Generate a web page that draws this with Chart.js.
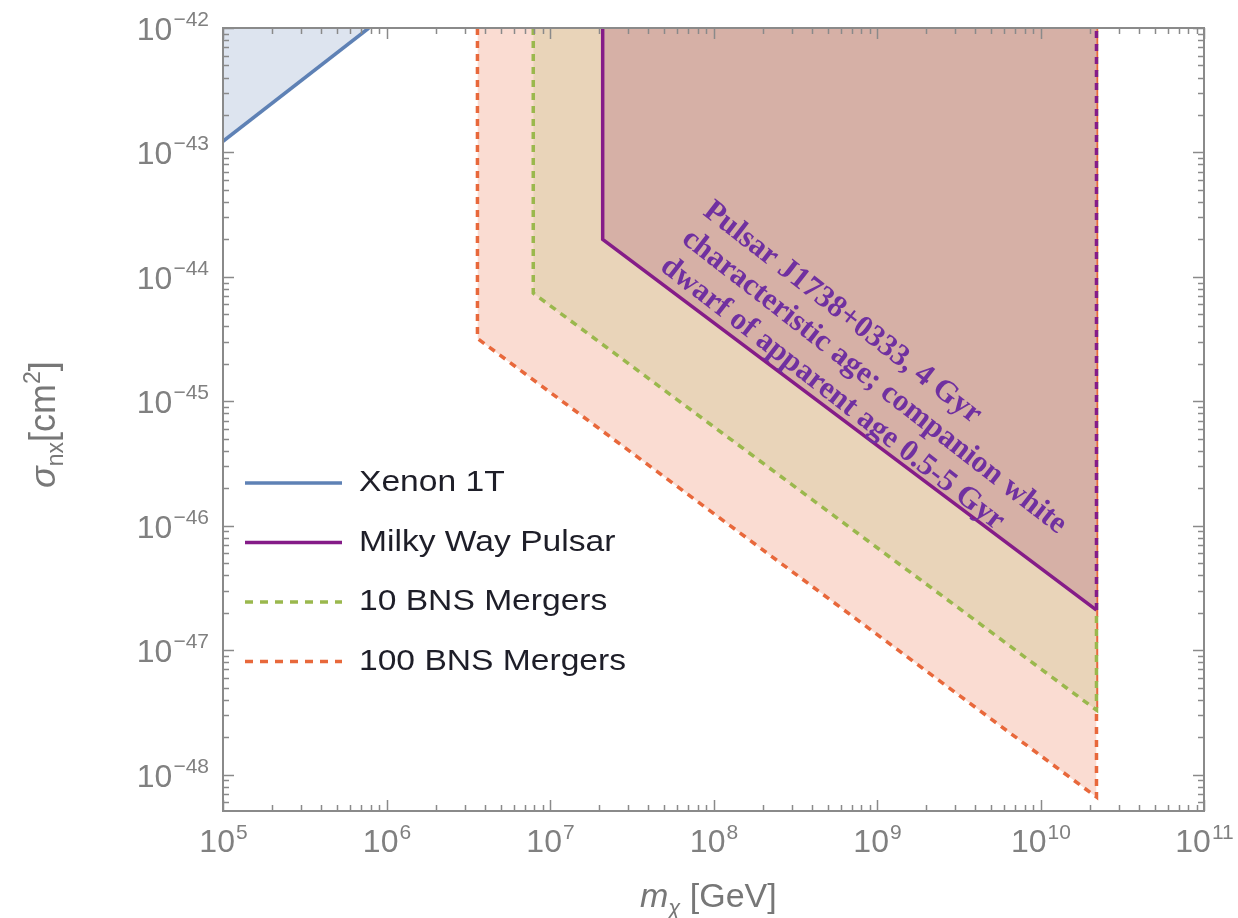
<!DOCTYPE html>
<html>
<head>
<meta charset="utf-8">
<script src="https://cdn.jsdelivr.net/npm/chart.js@4.4.1/dist/chart.umd.min.js"></script>
<style>
  html, body { margin: 0; padding: 0; background: #fff; }
</style>
</head>
<body>
<canvas id="chart" width="1238" height="918"></canvas>
<script>
// tick values (decades only, minor ticks drawn by the frame plugin)
const xTickValues = [1e5, 1e6, 1e7, 1e8, 1e9, 1e10, 1e11];
const yTickValues = [1e-48, 1e-47, 1e-46, 1e-45, 1e-44, 1e-43, 1e-42];

// boundaries: m_chi [GeV] vs sigma_nx [cm^2]
const xenonMass = [1e5, 7.8e5];
const xenonSigma = [1.23e-43, 1e-42];
const pulsarMass = [2.1e7, 2.1e7, 2.2e10, 2.2e10];
const pulsarSigma = [1e-42, 2.0e-44, 2.1e-47, 1e-42];
const bns10Mass = [7.9e6, 7.9e6, 2.2e10, 2.2e10];
const bns10Sigma = [1e-42, 7.4e-45, 3.3e-48, 1e-42];
const bns100Mass = [3.6e6, 3.6e6, 2.2e10, 2.2e10];
const bns100Sigma = [1e-42, 3.2e-45, 6.6e-49, 1e-42];

const seriesLabels = ["Xenon 1T", "Milky Way Pulsar", "10 BNS Mergers", "100 BNS Mergers"];
const noteLines = [
  "Pulsar J1738+0333, 4 Gyr",
  "characteristic age; companion white",
  "dwarf of apparent age 0.5-5 Gyr",
];
const noteAnchor = { x: 9.1e7, y: 3.6e-44 };

const SANS = '"Liberation Sans", Arial, "DejaVu Sans", sans-serif';

function points(xs, ys) {
  return xs.map((x, i) => ({ x, y: ys[i] }));
}

const datasets = [
  {
    label: seriesLabels[0],
    data: points(xenonMass, xenonSigma),
    borderColor: "#5e81b5",
    backgroundColor: "#dde4ef",
  },
  {
    label: seriesLabels[1],
    data: points(pulsarMass, pulsarSigma),
    borderColor: "#851c88",
    backgroundColor: "#d6b0a6",
    segment: { borderDash: (ctx) => (ctx.p0DataIndex === 2 ? [7, 6] : undefined) },
  },
  {
    label: seriesLabels[2],
    data: points(bns10Mass, bns10Sigma),
    borderColor: "#9ab84d",
    backgroundColor: "#e9d4b9",
    borderDash: [7, 6],
  },
  {
    label: seriesLabels[3],
    data: points(bns100Mass, bns100Sigma),
    borderColor: "#e8683b",
    backgroundColor: "#fadcd2",
    borderDash: [7, 6],
  },
].map((d) => Object.assign({ showLine: true, fill: "end", pointRadius: 0, tension: 0, borderWidth: 3.5 }, d));

function minorValues(min, max) {
  const out = [];
  for (let d = Math.floor(Math.log10(min)); d <= Math.ceil(Math.log10(max)); d++) {
    for (let k = 2; k <= 9; k++) {
      const v = k * Math.pow(10, d);
      if (v > min && v < max) out.push(v);
    }
  }
  return out;
}

const framePlugin = {
  id: "frame",
  afterDatasetsDraw(chart) {
    const { ctx, chartArea: a, scales } = chart;
    ctx.save();
    ctx.strokeStyle = "#8a8a8a";
    ctx.lineWidth = 1.5;
    const tick = (x1, y1, x2, y2) => {
      ctx.beginPath();
      ctx.moveTo(x1, y1);
      ctx.lineTo(x2, y2);
      ctx.stroke();
    };
    const xs = scales.x, ys = scales.y;
    [[xTickValues, 11], [minorValues(xs.min, xs.max), 6]].forEach(([vals, len]) => {
      vals.forEach((v) => {
        const p = Math.round(xs.getPixelForValue(v)) + 0.5;
        tick(p, a.bottom, p, a.bottom - len);
        tick(p, a.top, p, a.top + len);
      });
    });
    [[yTickValues, 11], [minorValues(ys.min, ys.max), 6]].forEach(([vals, len]) => {
      vals.forEach((v) => {
        const p = Math.round(ys.getPixelForValue(v)) + 0.5;
        tick(a.left, p, a.left + len, p);
        tick(a.right, p, a.right - len, p);
      });
    });
    ctx.lineWidth = 2;
    ctx.strokeRect(a.left, a.top, a.right - a.left, a.bottom - a.top);
    ctx.restore();
  },
};

// "10" with a raised exponent, placed from the scale's pixel for each tick value
const tickLabelPlugin = {
  id: "powerTicks",
  afterDraw(chart) {
    const { ctx, chartArea: a, scales } = chart;
    const base = "32px " + SANS, sup = "21px " + SANS;
    ctx.save();
    ctx.fillStyle = "#808080";
    ctx.textBaseline = "alphabetic";
    const parts = (v) => ["10", String(Math.round(Math.log10(v))).replace("-", "\u2212")];
    const widths = (m, e) => {
      ctx.font = base; const w1 = ctx.measureText(m).width;
      ctx.font = sup; const w2 = ctx.measureText(e).width;
      return [w1, w2];
    };
    xTickValues.forEach((v) => {
      const [m, e] = parts(v);
      const [w1, w2] = widths(m, e);
      const left = scales.x.getPixelForValue(v) - (w1 + w2) / 2;
      const by = a.bottom + 41;
      ctx.font = base; ctx.fillText(m, left, by);
      ctx.font = sup; ctx.fillText(e, left + w1 + 1, by - 13);
    });
    yTickValues.forEach((v) => {
      const [m, e] = parts(v);
      const [w1, w2] = widths(m, e);
      const right = a.left - 14;
      const by = scales.y.getPixelForValue(v) + 12;
      ctx.font = base; ctx.fillText(m, right - w2 - 1 - w1, by);
      ctx.font = sup; ctx.fillText(e, right - w2, by - 14);
    });
    ctx.restore();
  },
};

const legendPlugin = {
  id: "insetLegend",
  afterDatasetsDraw(chart) {
    const { ctx } = chart;
    ctx.save();
    chart.data.datasets.forEach((ds, i) => {
      const y = 483 + i * 59.5;
      ctx.strokeStyle = ds.borderColor;
      ctx.lineWidth = 3.5;
      ctx.setLineDash(ds.borderDash ? [8, 7] : []);
      ctx.beginPath();
      ctx.moveTo(245, y);
      ctx.lineTo(342, y);
      ctx.stroke();
      ctx.save();
      ctx.translate(359, y);
      ctx.scale(1.12, 1);
      ctx.font = "30px " + SANS;
      ctx.textBaseline = "middle";
      ctx.fillStyle = "#1e1e28";
      ctx.fillText(ds.label, 0, 0);
      ctx.restore();
    });
    ctx.restore();
  },
};

const notePlugin = {
  id: "note",
  afterDatasetsDraw(chart) {
    const { ctx, scales } = chart;
    const px = scales.x.getPixelForValue(noteAnchor.x);
    const py = scales.y.getPixelForValue(noteAnchor.y);
    ctx.save();
    ctx.translate(px, py);
    ctx.rotate((37.8 * Math.PI) / 180);
    ctx.font = 'bold 31px "Liberation Serif", "Times New Roman", serif';
    ctx.fillStyle = "#7030a0";
    ctx.textBaseline = "middle";
    noteLines.forEach((t, i) => ctx.fillText(t, 0, i * 35));
    ctx.restore();
  },
};

const titlePlugin = {
  id: "axisTitles",
  afterDraw(chart) {
    const { ctx } = chart;
    ctx.save();
    ctx.fillStyle = "#777";
    ctx.textBaseline = "alphabetic";
    const run = (parts) => {
      let x = 0;
      parts.forEach(([text, font, dy]) => {
        ctx.font = font;
        ctx.fillText(text, x, dy);
        x += ctx.measureText(text).width;
      });
    };
    // x title: m_chi [GeV]
    ctx.save();
    ctx.translate(640, 907);
    run([
      ["m", "italic 34px " + SANS, 0],
      ["χ", "italic 22px " + SANS, 8],
      [" [GeV]", "34px " + SANS, 0],
    ]);
    ctx.restore();
    // y title: sigma_nx [cm^2]
    ctx.save();
    ctx.translate(55, 488);
    ctx.rotate(-Math.PI / 2);
    run([
      ["σ", "italic 36px " + SANS, 0],
      ["nx", "23px " + SANS, 8],
      ["[cm", "36px " + SANS, 0],
      ["2", "23px " + SANS, -15],
      ["]", "36px " + SANS, 0],
    ]);
    ctx.restore();
    ctx.restore();
  },
};

new Chart(document.getElementById("chart").getContext("2d"), {
  type: "scatter",
  data: { datasets },
  plugins: [framePlugin, legendPlugin, notePlugin, tickLabelPlugin, titlePlugin],
  options: {
    responsive: false,
    animation: false,
    layout: { padding: { top: 28, right: 34, left: 0, bottom: 0 } },
    plugins: { legend: { display: false }, tooltip: { enabled: false } },
    scales: {
      x: {
        type: "logarithmic",
        min: 1e5,
        max: 1e11,
        afterBuildTicks: (s) => { s.ticks = xTickValues.map((v) => ({ value: v })); },
        afterFit: (s) => { s.height = 107; },
        ticks: { display: false },
        grid: { display: false },
        border: { display: false },
      },
      y: {
        type: "logarithmic",
        min: 5.1e-49,
        max: 1e-42,
        afterBuildTicks: (s) => { s.ticks = yTickValues.map((v) => ({ value: v })); },
        afterFit: (s) => { s.width = 223; },
        ticks: { display: false },
        grid: { display: false },
        border: { display: false },
      },
    },
  },
});
</script>
</body>
</html>
